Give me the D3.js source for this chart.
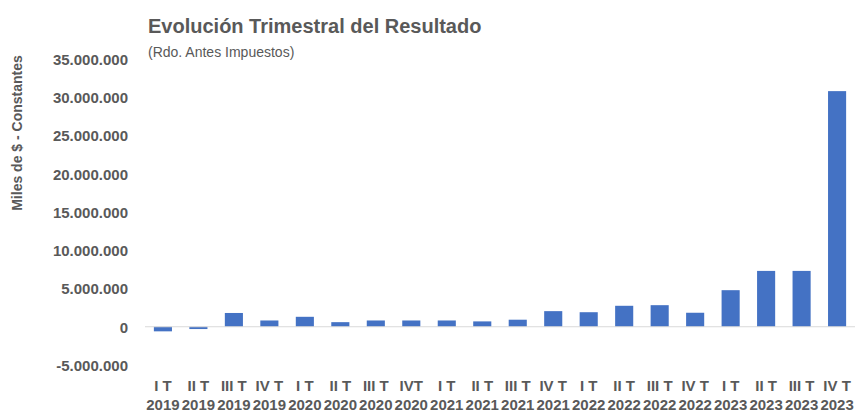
<!DOCTYPE html>
<html>
<head>
    <title>Evolución Trimestral del Resultado</title>
    <script src='https://d3js.org/d3.v7.min.js'></script>
    <style>
        html, body {
            margin: 0;
            padding: 0;
            background: white;
            font-family: 'Liberation Sans', Arial, sans-serif;
        }
        .tick text {fill: #595959; font-weight: bold;}
    </style>
</head>
<body>
<div id="vis"></div>
<script>

// Values in miles de $ (constantes)
var quarters = ["I T","II T","III T","IV T","I T","II T","III T","IVT","I T","II T","III T","IV T","I T","II T","III T","IV T","I T","II T","III T","IV T"];
var years = ["2019","2019","2019","2019","2020","2020","2020","2020","2021","2021","2021","2021","2022","2022","2022","2022","2023","2023","2023","2023"];
var results = [-600000, -300000, 1800000, 820000, 1300000, 600000, 820000, 820000, 820000, 700000, 920000, 2040000, 1900000, 2740000, 2820000, 1830000, 4780000, 7300000, 7300000, 30800000];
var y_ticks = [-5000000, 0, 5000000, 10000000, 15000000, 20000000, 25000000, 30000000, 35000000];

var width = 855, height = 413;
var svg = d3.select('#vis')
    .append('svg')
    .attr('width', width)
    .attr('height', height);

var locale = d3.formatLocale({decimal: ",", thousands: ".", grouping: [3], currency: ["$", ""], minus: "-"});
var fmt = locale.format(",.0f");

var x_scale = d3.scaleBand().domain(d3.range(results.length)).range([145, 855]).paddingInner(0.49).paddingOuter(0.25);
var y_scale = d3.scaleLinear().domain([-5000000, 35000000]).range([365, 59]);

// title
svg.append('text').attr('x', 148).attr('y', 33)
    .style('font-size', '20px').style('font-weight', 'bold').style('fill', '#595959')
    .text('Evolución Trimestral del Resultado');
svg.append('text').attr('x', 148).attr('y', 57)
    .style('font-size', '14px').style('fill', '#595959')
    .text('(Rdo. Antes Impuestos)');

// y axis title
svg.append('text')
    .attr('transform', 'translate(22,133) rotate(-90)')
    .attr('text-anchor', 'middle')
    .style('font-size', '14px').style('font-weight', 'bold').style('fill', '#595959')
    .text('Miles de $ - Constantes');

// y axis (labels only)
var y_axis = svg.append('g')
    .attr('transform', 'translate(128,0)')
    .call(d3.axisLeft(y_scale).tickValues(y_ticks).tickFormat(fmt).tickSize(0).tickPadding(0));
y_axis.select('.domain').remove();
y_axis.selectAll('text').style('font-size', '15px').attr('dy', '0.35em');

// bars
svg.selectAll('.bar').data(results).enter().append('rect')
    .attr('class', 'bar')
    .attr('x', function(d, i) {return x_scale(i);})
    .attr('y', function(d) {return y_scale(Math.max(0, d));})
    .attr('width', x_scale.bandwidth())
    .attr('height', function(d) {return Math.abs(y_scale(d) - y_scale(0));})
    .style('fill', '#4472C4');

// zero line
svg.append('line')
    .attr('x1', 145).attr('x2', 855)
    .attr('y1', y_scale(0)).attr('y2', y_scale(0))
    .style('stroke', '#d9d9d9').style('stroke-width', 1);

// x labels in two lines at the bottom
var labels = svg.selectAll('.xlab').data(quarters).enter().append('text')
    .attr('class', 'xlab')
    .attr('text-anchor', 'middle')
    .style('font-size', '15px').style('font-weight', 'bold').style('fill', '#595959');
labels.append('tspan')
    .attr('x', function(d, i) {return x_scale(i) + x_scale.bandwidth() / 2;})
    .attr('y', 391)
    .text(function(d) {return d;});
labels.append('tspan')
    .attr('x', function(d, i) {return x_scale(i) + x_scale.bandwidth() / 2;})
    .attr('y', 410)
    .text(function(d, i) {return years[i];});

</script>
</body>
</html>
